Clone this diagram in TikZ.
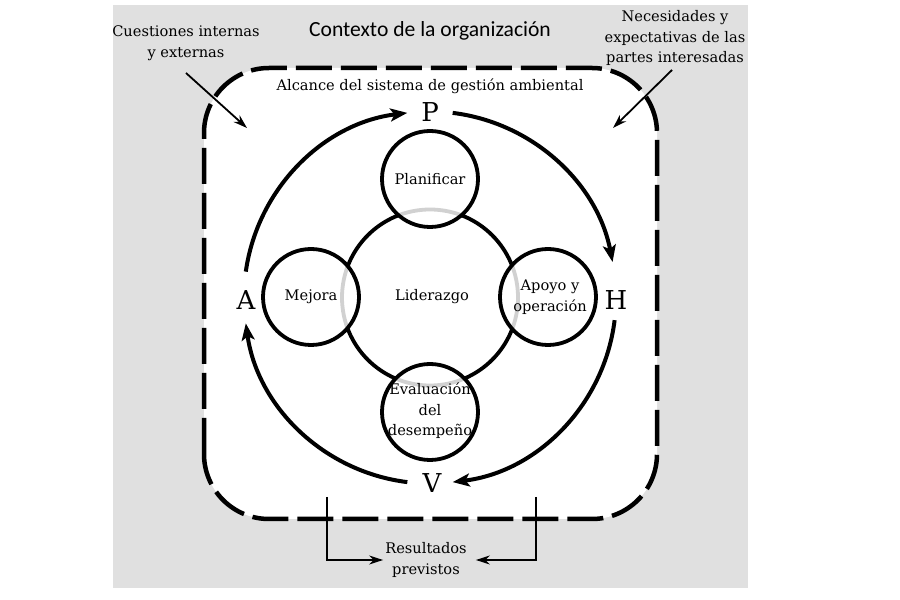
\documentclass[tikz,border=0pt]{standalone}
\usepackage{fontspec}
\setmainfont{DejaVu Serif}
\newfontfamily\titlefont{Carlito}
\usetikzlibrary{arrows.meta,calc}
\definecolor{bggray}{RGB}{224,224,224}
\begin{document}
\begin{tikzpicture}[x=1pt,y=1pt,
  txt/.style={font=\fontsize{14.6}{20.5}\selectfont, align=center, inner sep=1pt},
  satc/.style={circle, draw=black, line width=3.8pt, minimum size=96pt, inner sep=0pt, fill=white, fill opacity=0.82, text opacity=1},
  cyc/.style={line width=4pt, -{Stealth[length=17pt,width=13pt,inset=4pt]}},
  thinarrow/.style={line width=1.8pt, -{Stealth[length=14pt,width=9pt]}},
  letter/.style={font=\fontsize{26}{26}\selectfont, inner sep=0pt},
  border/.style={line width=4.5pt, dash pattern=on 36pt off 9pt, rounded corners=65pt}
]
\useasboundingbox (0,0) rectangle (900,600);
\fill[bggray] (113,12) rectangle (748,595);
\filldraw[fill=white, border] (204,81) rectangle (657,532);

% titles
\node[font=\titlefont\fontsize{21.6}{21.6}\selectfont, anchor=base, inner sep=0pt] (title) at (430,563) {Contexto de la organización};
\node[txt] (cue) at (186,557) {Cuestiones internas\\y externas};
\node[txt] (nec) at (675,562) {Necesidades y\\expectativas de las\\partes interesadas};
\node[txt, anchor=base, inner sep=0pt] (alc) at (430,509) {Alcance del sistema de gestión ambiental};

% pointer arrows
\coordinate (cueA) at (186,527);
\coordinate (cueB) at (247,472);
\draw[thinarrow] (cueA) -- (cueB);
\coordinate (necA) at (672,530);
\coordinate (necB) at (613,472);
\draw[thinarrow] (necA) -- (necB);

% central circle
\coordinate (C) at (430,302.5);
\draw[line width=3.8pt] (C) circle[radius=88];
\node[txt] (lid) at (432,303) {Liderazgo};

% satellites
\node[satc] (plan) at (430,421) {};
\node[satc] (eval) at (430,188) {};
\node[satc] (mej) at (311,303) {};
\node[satc] (apo) at (548,303) {};
\node[txt] (planT) at (plan) {Planificar};
\node[txt] (evalT) at ([yshift=1pt]eval) {Evaluación\\del\\desempeño};
\node[txt] (mejT) at (mej) {Mejora};
\node[txt] (apoT) at ([xshift=2pt]apo) {Apoyo y\\operación};

% PHVA letters
\node[letter] (P) at (430,488) {P};
\node[letter] (H) at (616,300) {H};
\node[letter] (V) at (432,117) {V};
\node[letter] (A) at (246,300) {A};

% cycle arcs
\draw[cyc] ($(C)+(83:186)$) arc[start angle=83,end angle=11,radius=186];
\draw[cyc] ($(C)+(-7:186)$) arc[start angle=-7,end angle=-83,radius=186];
\draw[cyc] ($(C)+(-97:186)$) arc[start angle=-97,end angle=-172,radius=186];
\draw[cyc] ($(C)+(172:186)$) arc[start angle=172,end angle=97,radius=186];

% results
\node[txt] (res) at (426,40) {Resultados\\previstos};
\coordinate (rl) at (327,103);
\coordinate (rr) at (536,103);
\draw[thinarrow] (rl) |- ([xshift=-1pt]res.west);
\draw[thinarrow] (rr) |- ([xshift=8pt]res.east);
\end{tikzpicture}
\end{document}
